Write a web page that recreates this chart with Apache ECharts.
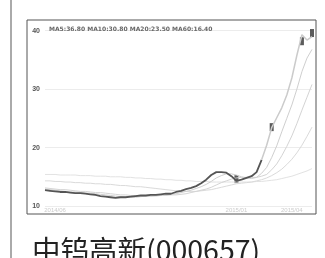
<!DOCTYPE html>
<html>
<head>
<meta charset="utf-8">
<script src="https://cdn.jsdelivr.net/npm/echarts@6/dist/echarts.min.js"></script>
<style>
  html, body { margin: 0; padding: 0; background: #fff; }
  #main { width: 325px; height: 258px; }
</style>
</head>
<body>
<div id="main"></div>
<script>
// 价格走势 (周线, 估读)
var price = [12.7,12.6,12.5,12.4,12.4,12.3,12.2,12.2,12.1,12.0,
             11.9,11.7,11.6,11.5,11.4,11.5,11.5,11.6,11.7,11.8,
             11.8,11.9,11.9,12.0,12.1,12.1,12.4,12.6,12.9,13.1,
             13.4,13.9,14.5,15.3,15.8,15.8,15.7,15.1,14.3,14.5,
             14.8,15.1,15.8,17.9,20.4,23.4,25.1,26.8,29.0,31.9,
             35.8,39.3,38.4,39.0];
var ma5 = [12.9,12.8,12.7,12.6,12.5,12.4,12.4,12.3,12.2,12.2,
           12.1,12.0,11.9,11.8,11.7,11.6,11.5,11.5,11.5,11.6,
           11.7,11.7,11.8,11.9,11.9,12.0,12.1,12.3,12.5,12.7,
           13.0,13.3,13.7,14.2,14.8,15.2,15.5,15.5,15.3,15.0,
           14.8,14.7,14.9,15.6,16.6,18.3,20.3,22.7,25.0,27.3,
           30.0,33.0,35.3,36.8];
var ma10 = [13.1,13.0,12.9,12.8,12.8,12.7,12.6,12.5,12.5,12.4,
            12.3,12.3,12.2,12.1,12.0,11.9,11.9,11.8,11.8,11.7,
            11.7,11.7,11.7,11.8,11.8,11.9,11.9,12.0,12.1,12.3,
            12.5,12.7,12.9,13.2,13.6,14.0,14.3,14.6,14.8,14.9,
            14.9,14.9,14.9,15.1,15.4,16.2,17.2,18.6,20.2,22.0,
            24.1,26.4,28.6,30.8];
var ma20 = [14.3,14.3,14.2,14.2,14.1,14.1,14.0,14.0,13.9,13.9,
            13.8,13.8,13.7,13.7,13.6,13.5,13.5,13.4,13.3,13.3,
            13.2,13.1,13.0,12.9,12.8,12.7,12.6,12.5,12.5,12.5,
            12.5,12.6,12.7,12.8,13.0,13.2,13.4,13.6,13.8,13.9,
            14.0,14.1,14.3,14.5,14.8,15.2,15.7,16.3,17.1,18.0,
            19.1,20.4,21.9,23.5];
var ma60 = [15.4,15.4,15.4,15.3,15.3,15.3,15.3,15.2,15.2,15.2,
            15.1,15.1,15.1,15.0,15.0,15.0,14.9,14.9,14.8,14.8,
            14.7,14.7,14.6,14.6,14.5,14.5,14.4,14.4,14.3,14.3,
            14.2,14.2,14.2,14.1,14.1,14.1,14.1,14.1,14.1,14.1,
            14.1,14.1,14.2,14.2,14.3,14.4,14.5,14.7,14.9,15.1,
            15.4,15.7,16.0,16.4];
// 深色K线标记
var candleIdx = [38, 45, 51, 53];
var candleVal = [14.6, 23.5, 38.2, 39.6];
// 刻度
var yTicks = [10, 20, 30, 40];
var dateIdx = [2, 38, 49];
var dateLabels = ['2014/06', '2015/01', '2015/04'];
var maText = 'MA5:36.80 MA10:30.80 MA20:23.50 MA60:16.40';
var splitAt = 43; // 之后走势印刷较浅

var cats = price.map(function (v, i) { return String(i); });
var candles = candleIdx.map(function (i, k) { return [String(i), candleVal[k]]; });
var priceDark = price.map(function (v, i) { return i <= splitAt ? v : null; });
var priceLight = price.map(function (v, i) { return i >= splitAt ? v : null; });

var option = {
    backgroundColor: '#fff',
    animation: false,
    title: [
        {text: '中钨高新(000657)', left: 27, top: 231,
         textStyle: {fontSize: 28.5, fontWeight: 'normal', color: '#222', fontFamily: 'Noto Sans CJK SC'}},
        {text: maText, left: 44, top: 21,
         textStyle: {fontSize: 6, fontWeight: 'bold', color: '#666', fontFamily: 'DejaVu Sans'}}
    ],
    graphic: [
        {type: 'line', shape: {x1: 11, y1: 0, x2: 11, y2: 258}, style: {stroke: '#aaa', lineWidth: 2}}
    ],
    grid: [
        {left: 45, right: 13, top: 30.7, bottom: 52},
        {left: 27, right: 9, top: 20, bottom: 44, show: true, borderColor: '#555', borderWidth: 1, backgroundColor: 'transparent'}
    ],
    xAxis: [
        {
            type: 'category', gridIndex: 0, boundaryGap: false, data: cats,
            axisLine: {show: false}, axisTick: {show: false},
            axisLabel: {
                interval: function (i) { return dateIdx.indexOf(i) >= 0; },
                formatter: function (v, i) { var k = dateIdx.indexOf(i); return k >= 0 ? dateLabels[k] : ''; },
                fontSize: 6, color: '#ccc', margin: 1
            }
        },
        {type: 'value', gridIndex: 1, show: false}
    ],
    yAxis: [
        {
            type: 'value', gridIndex: 0, min: yTicks[0], max: yTicks[yTicks.length - 1], interval: 10,
            axisLine: {show: false}, axisTick: {show: false},
            axisLabel: {fontSize: 7, fontWeight: 'bold', color: '#555', margin: 5},
            splitLine: {lineStyle: {color: '#ececec', width: 1}}
        },
        {type: 'value', gridIndex: 1, show: false}
    ],
    series: [
        {name: 'MA60', type: 'line', data: ma60, symbol: 'none', lineStyle: {width: 1, color: '#e2e2e2'}},
        {name: 'MA20', type: 'line', data: ma20, symbol: 'none', lineStyle: {width: 1, color: '#dadada'}},
        {name: 'MA10', type: 'line', data: ma10, symbol: 'none', lineStyle: {width: 1, color: '#d4d4d4'}},
        {name: 'MA5', type: 'line', data: ma5, symbol: 'none', lineStyle: {width: 1, color: '#cfcfcf'}},
        {name: '收盘', type: 'line', data: priceDark, symbol: 'none', lineStyle: {width: 1.8, color: '#555'}},
        {name: '收盘2', type: 'line', data: priceLight, symbol: 'none', lineStyle: {width: 1.5, color: '#cbcbcb'}},
        {name: 'K', type: 'scatter', data: candles, symbol: 'rect', symbolSize: [4, 8], itemStyle: {color: '#333'}}
    ]
};
var myChart = echarts.init(document.getElementById('main'));
myChart.setOption(option);
</script>
</body>
</html>
